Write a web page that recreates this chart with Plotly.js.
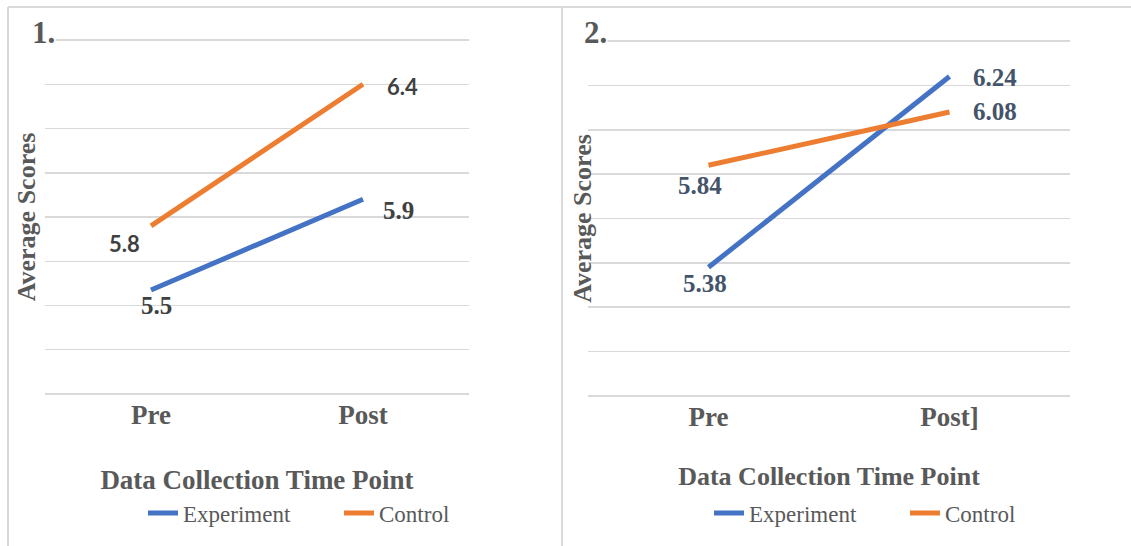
<!DOCTYPE html>
<html><head><meta charset="utf-8">
<script src="https://cdn.plot.ly/plotly-3.0.1.min.js"></script>
<style>html,body{margin:0;padding:0;background:#fff;} #chart{width:1131px;height:546px;}</style>
</head><body><div id="chart"></div>
<script>
// ---- data ----
const categories1 = ["Pre", "Post"];
const categories2 = ["Pre", "Post]"];
const seriesNames = ["Experiment", "Control"];
const experiment1 = [5.47, 5.88];
const control1 = [5.76, 6.40];
const experimentLabels1 = ["5.5", "5.9"];
const controlLabels1 = ["5.8", "6.4"];
const experiment2 = [5.38, 6.24];
const control2 = [5.84, 6.08];
const experimentLabels2 = ["5.38", "6.24"];
const controlLabels2 = ["5.84", "6.08"];
const panelTitles = ["1.", "2."];
const xTitle = "Data Collection Time Point";
const yTitle = "Average Scores";
const yRange1 = [5.0, 6.6];
const yRange2 = [4.8, 6.4];

// ---- styling ----
const W = 1131, H = 546;
const BLUE = "#4472C4", ORANGE = "#ED7D31";
const GRID = "#D9D9D9", TXT = "#595959";
const SERIF = "Liberation Serif";
const SANS = "Lato";
const px = v => v / W, py = v => 1 - v / H;
const EPS = 0.01; // small pad so the edge gridlines are drawn

function line(x, y, name, color, xa, ya, lg) {
  return {x: x, y: y, name: name, type: "scatter", mode: "lines", xaxis: xa, yaxis: ya,
          legend: lg, line: {color: color, width: 5}, hoverinfo: "x+y+name"};
}
const traces = [
  line(categories1, experiment1, seriesNames[0], BLUE, "x", "y", "legend"),
  line(categories1, control1, seriesNames[1], ORANGE, "x", "y", "legend"),
  line(categories2, experiment2, seriesNames[0], BLUE, "x2", "y2", "legend2"),
  line(categories2, control2, seriesNames[1], ORANGE, "x2", "y2", "legend2")
];

function labels(xs, ys, texts, xref, yref, shifts, fonts) {
  return xs.map((x, i) => ({
    x: x, y: ys[i], xref: xref, yref: yref, text: texts[i], showarrow: false,
    xanchor: "center", yanchor: "middle", xshift: shifts[i][0], yshift: shifts[i][1],
    font: fonts[i]
  }));
}
const serifLab1 = {family: SERIF, size: 25, color: "#404040", weight: "bold"};
const sansLab1 = {family: SANS, size: 22, color: "#404040", weight: "bold"};
const serifLab2 = {family: SERIF, size: 25, color: "#44546A", weight: "bold"};

const annotations = [].concat(
  labels(categories1, experiment1, experimentLabels1, "x", "y", [[5, -15], [35, -11]], [serifLab1, serifLab1]),
  labels(categories1, control1, controlLabels1, "x", "y", [[-27, -18], [39, -2]], [sansLab1, sansLab1]),
  labels(categories2, experiment2, experimentLabels2, "x2", "y2", [[-4, -16], [45, -1]], [serifLab2, serifLab2]),
  labels(categories2, control2, controlLabels2, "x2", "y2", [[-9, -20], [45, 1]], [serifLab2, serifLab2]),
  [
    {xref: "paper", yref: "paper", x: px(31), y: py(32), xanchor: "left", yanchor: "middle",
     text: panelTitles[0], showarrow: false, bgcolor: "#fff", borderpad: 0,
     font: {family: SERIF, size: 31, color: TXT, weight: "bold"}},
    {xref: "paper", yref: "paper", x: px(583), y: py(32), xanchor: "left", yanchor: "middle",
     text: panelTitles[1], showarrow: false, bgcolor: "#fff", borderpad: 0,
     font: {family: SERIF, size: 31, color: TXT, weight: "bold"}}
  ]
);

function xax(dom, anchor, titleSize, standoff) {
  return {domain: dom, anchor: anchor, type: "category", range: [-0.5, 1.5],
    showgrid: false, zeroline: false, showline: false, ticks: "",
    tickfont: {family: SERIF, size: 27, color: TXT, weight: "bold"}, ticklabelstandoff: 0,
    title: {text: xTitle, standoff: standoff, font: {family: SERIF, size: titleSize, color: TXT, weight: "bold"}},
    fixedrange: true};
}
function yax(dom, anchor, range, extra) {
  return Object.assign({domain: dom, anchor: anchor, range: [range[0] - EPS, range[1] + EPS],
    dtick: 0.2, tick0: 0,
    showgrid: true, gridcolor: GRID, gridwidth: 1.5, zeroline: false, showline: false,
    showticklabels: false, ticks: "",
    title: {text: yTitle, standoff: 0, font: {family: SERIF, size: 26, color: TXT, weight: "bold"}},
    fixedrange: true}, extra || {});
}
function leg(x) {
  return {orientation: "h", x: x, xanchor: "left", y: py(513), yanchor: "middle",
    font: {family: SERIF, size: 23, color: TXT}, bgcolor: "rgba(0,0,0,0)",
    itemwidth: 30, entrywidthmode: "pixels", entrywidth: 151, borderwidth: 0};
}

const shapes = [
  {type: "line", xref: "paper", yref: "paper", x0: px(8), x1: px(8), y0: 0, y1: py(7), line: {color: GRID, width: 2}},
  {type: "line", xref: "paper", yref: "paper", x0: px(8), x1: 1, y0: py(7), y1: py(7), line: {color: GRID, width: 2}},
  {type: "line", xref: "paper", yref: "paper", x0: px(562), x1: px(562), y0: 0, y1: py(7), line: {color: GRID, width: 2}}
];

const layout = {
  width: W, height: H, margin: {l: 0, r: 0, t: 0, b: 0},
  paper_bgcolor: "#fff", plot_bgcolor: "#fff",
  xaxis: xax([px(45), px(469)], "y", 27, 40),
  yaxis: yax([py(396.2), py(37.8)], "x", yRange1),
  xaxis2: xax([px(588), px(1070)], "y2", 26, 35),
  yaxis2: yax([py(398.2), py(38.8)], "free", yRange2, {position: px(601)}),
  legend: leg(px(143)),
  legend2: leg(px(709)),
  annotations: annotations,
  shapes: shapes,
  showlegend: true
};
Plotly.newPlot("chart", traces, layout, {displayModeBar: false, staticPlot: true});
</script></body></html>
